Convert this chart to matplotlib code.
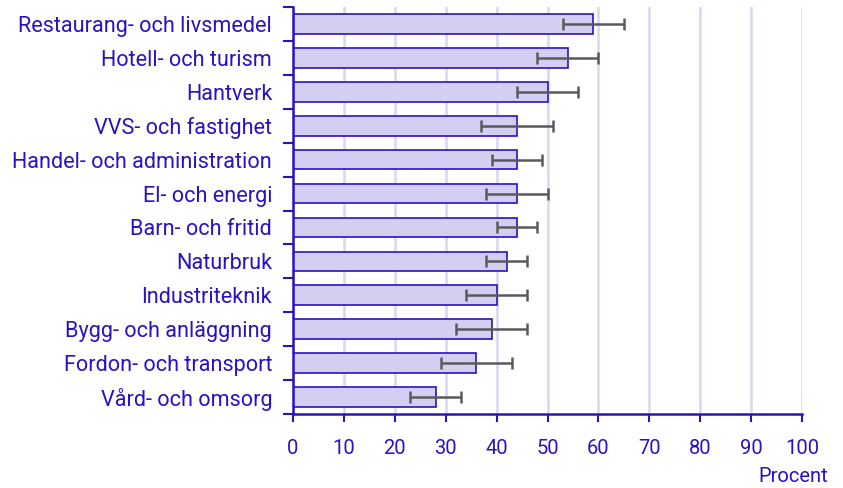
import matplotlib.pyplot as plt
import numpy as np

categories = ['Restaurang- och livsmedel', 'Hotell- och turism', 'Hantverk',
              'VVS- och fastighet', 'Handel- och administration', 'El- och energi',
              'Barn- och fritid', 'Naturbruk', 'Industriteknik',
              'Bygg- och anläggning', 'Fordon- och transport', 'Vård- och omsorg']
values = [59, 54, 50, 44, 44, 44, 44, 42, 40, 39, 36, 28]
err_low = [53, 48, 44, 37, 39, 38, 40, 38, 34, 32, 29, 23]
err_high = [65, 60, 56, 51, 49, 50, 48, 46, 46, 46, 43, 33]
xticks = [0, 10, 20, 30, 40, 50, 60, 70, 80, 90, 100]

blue = '#2a12c4'
plt.rcParams['font.family'] = ['Roboto', 'DejaVu Sans']

fig = plt.figure(figsize=(8.43, 4.88), dpi=100)
ax = fig.add_axes([293 / 843, 1 - 414 / 488, 509 / 843, 407 / 488])

n = len(categories)
y = np.arange(n)
vals = np.array(values)
xerr = [vals - np.array(err_low), np.array(err_high) - vals]

ax.barh(y, vals, height=0.58, color='#d3cef2', edgecolor=blue, linewidth=1.2, zorder=2)
ax.errorbar(vals, y, xerr=xerr, fmt='none', ecolor='#5a5a5a', elinewidth=1.8,
            capsize=4, capthick=1.8, zorder=3)

ax.set_ylim(n - 0.5, -0.5)
ax.set_xlim(0, 100)
ax.set_yticks(y)
ax.set_yticklabels(categories)
ax.set_yticks(np.arange(-0.5, n, 1), minor=True)
ax.tick_params(axis='y', which='major', length=0, pad=15, labelsize=15.6, labelcolor=blue)
ax.tick_params(axis='y', which='minor', length=7, width=1.5, color=blue)
ax.set_xticks(xticks)
ax.tick_params(axis='x', length=6, width=1.5, color=blue, labelsize=14.5, labelcolor=blue, pad=12)

ax.grid(axis='x', color='#d8d8f0', linewidth=1.8, zorder=0)
ax.set_axisbelow(True)
for s in ['top', 'right']:
    ax.spines[s].set_visible(False)
for s in ['left', 'bottom']:
    ax.spines[s].set_color(blue)
    ax.spines[s].set_linewidth(1.8)

ax.text((828 - 293) / 509, (414 - 477) / 407, 'Procent', transform=ax.transAxes,
        ha='right', va='center', color=blue, fontsize=14.5)

fig.savefig('out.png', dpi=100)
